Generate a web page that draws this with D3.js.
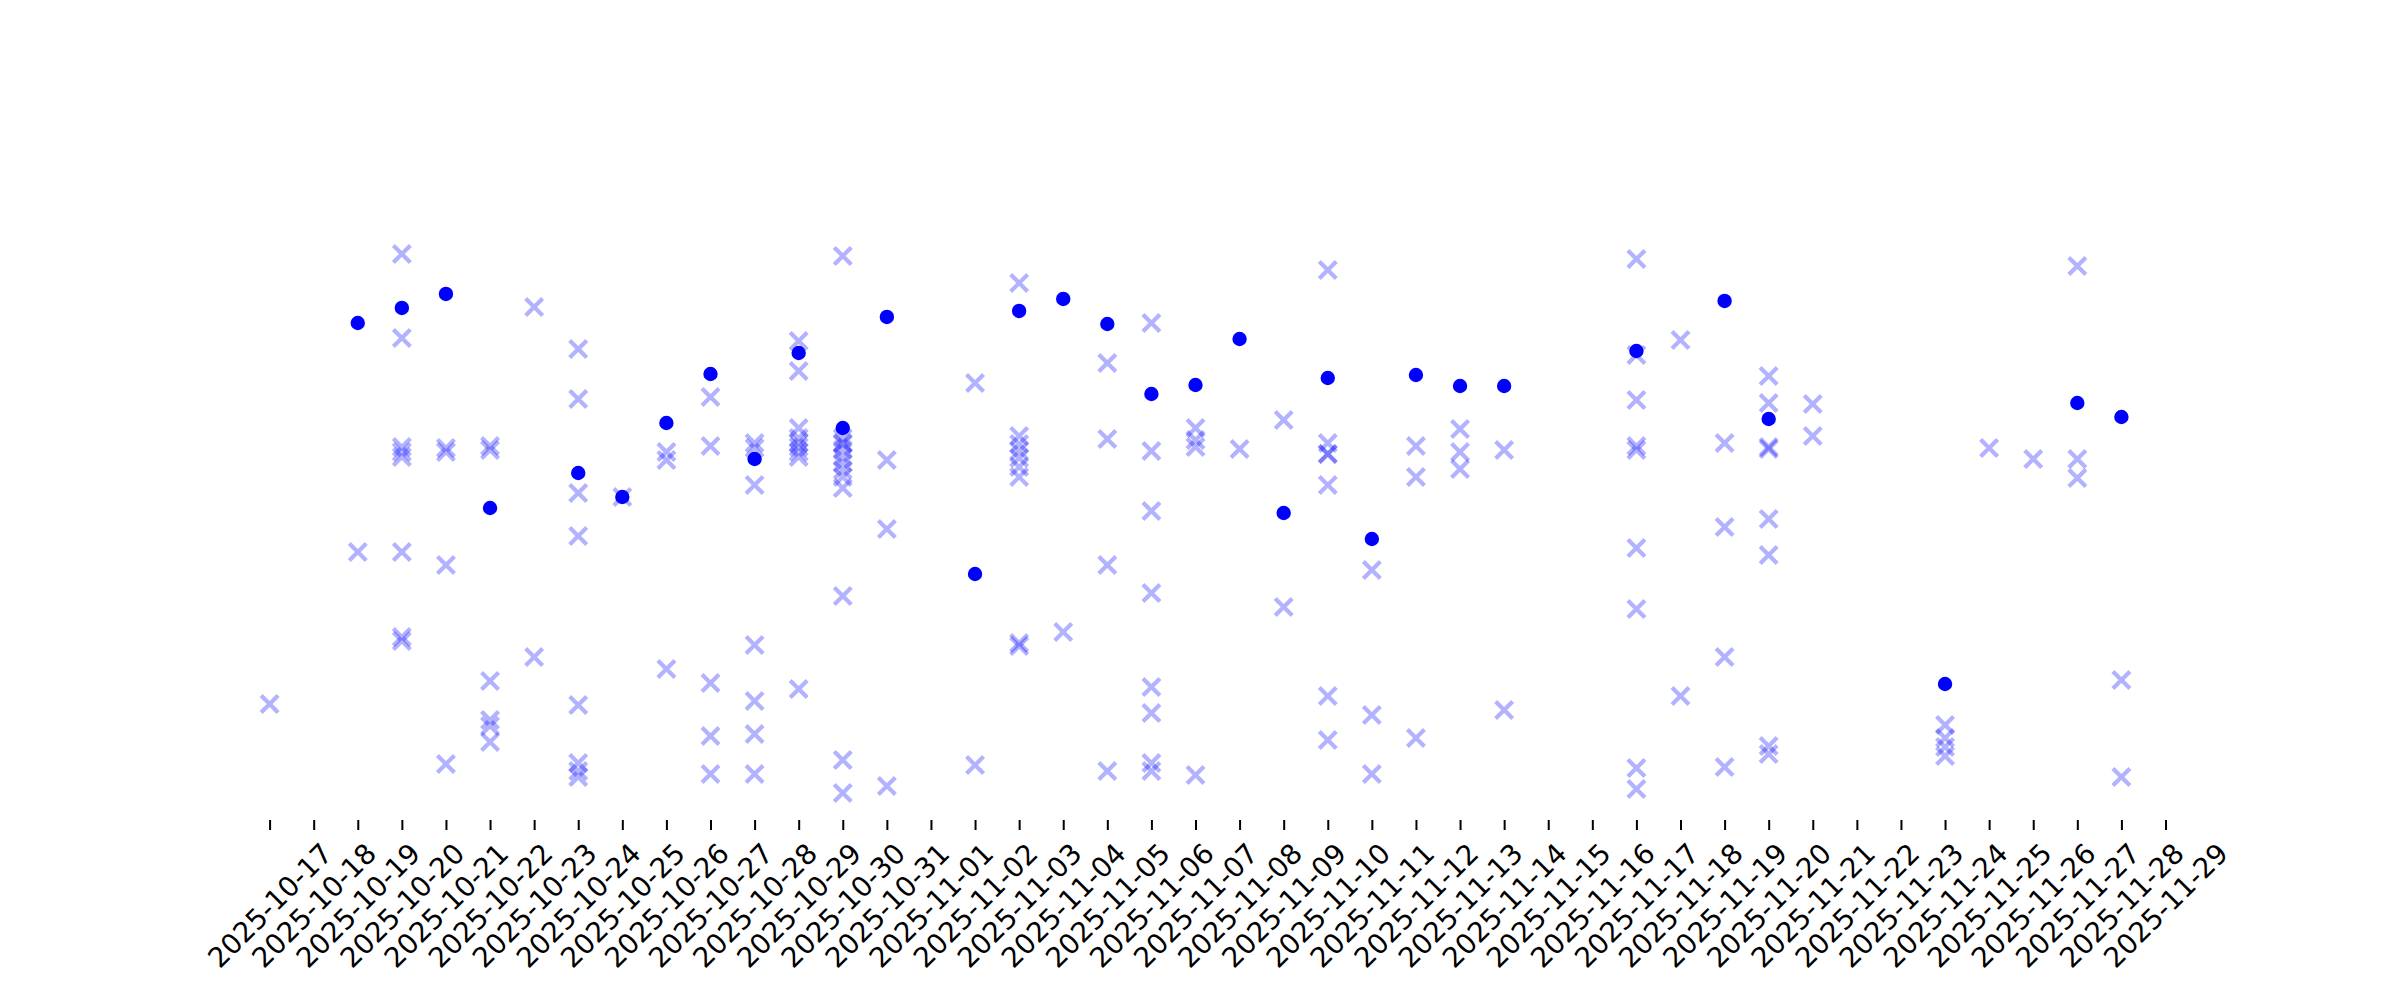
<!DOCTYPE html>
<html>
<head>
<meta charset="utf-8">
<script src="https://cdn.jsdelivr.net/npm/d3@7"></script>
<style>
  body { margin: 0; background: #fff; }
  svg { display: block; }
  .tick text { font-family: "DejaVu Sans", sans-serif; font-size: 27.8px; fill: #000; }
</style>
</head>
<body>
<svg width="2400" height="1000"></svg>
<script>
// tick labels on the date axis
const tickDates = [
  "2025-10-17", "2025-10-18", "2025-10-19", "2025-10-20", "2025-10-21", "2025-10-22",
  "2025-10-23", "2025-10-24", "2025-10-25", "2025-10-26", "2025-10-27", "2025-10-28",
  "2025-10-29", "2025-10-30", "2025-10-31", "2025-11-01", "2025-11-02", "2025-11-03",
  "2025-11-04", "2025-11-05", "2025-11-06", "2025-11-07", "2025-11-08", "2025-11-09",
  "2025-11-10", "2025-11-11", "2025-11-12", "2025-11-13", "2025-11-14", "2025-11-15",
  "2025-11-16", "2025-11-17", "2025-11-18", "2025-11-19", "2025-11-20", "2025-11-21",
  "2025-11-22", "2025-11-23", "2025-11-24", "2025-11-25", "2025-11-26", "2025-11-27",
  "2025-11-28", "2025-11-29"
];

// solid dots, one per day
const dotDates = [
  "2025-10-19", "2025-10-20", "2025-10-21", "2025-10-22", "2025-10-24", "2025-10-25",
  "2025-10-26", "2025-10-27", "2025-10-28", "2025-10-29", "2025-10-30", "2025-10-31",
  "2025-11-02", "2025-11-03", "2025-11-04", "2025-11-05", "2025-11-06", "2025-11-07",
  "2025-11-08", "2025-11-09", "2025-11-10", "2025-11-11", "2025-11-12", "2025-11-13",
  "2025-11-14", "2025-11-17", "2025-11-19", "2025-11-20", "2025-11-24", "2025-11-27",
  "2025-11-28"
];
const dotValues = [
  497, 512, 526, 312, 347, 323,
  397, 446, 361, 467, 392, 503,
  246, 509, 521, 496, 426, 435,
  481, 307, 442, 281, 445, 434,
  434, 469, 519, 401, 136, 417,
  403
];

// faint crosses, several per day
const crossDates = [
  "2025-10-17", "2025-10-19", "2025-10-20", "2025-10-21", "2025-10-22", "2025-10-23",
  "2025-10-24", "2025-10-25", "2025-10-26", "2025-10-27", "2025-10-28", "2025-10-29",
  "2025-10-30", "2025-10-31", "2025-11-02", "2025-11-03", "2025-11-04", "2025-11-05",
  "2025-11-06", "2025-11-07", "2025-11-08", "2025-11-09", "2025-11-10", "2025-11-11",
  "2025-11-12", "2025-11-13", "2025-11-14", "2025-11-17", "2025-11-18", "2025-11-19",
  "2025-11-20", "2025-11-21", "2025-11-24", "2025-11-25", "2025-11-26", "2025-11-27",
  "2025-11-28"
];
const crossValues = [
  [116],
  [268],
  [566, 482, 373, 368, 363, 268, 183, 179],
  [372, 368, 255, 56],
  [374, 370, 139, 100, 94, 78],
  [513, 163],
  [471, 421, 327, 284, 115, 57, 49, 43],
  [323],
  [368, 360, 151],
  [423, 374, 137, 84, 46],
  [377, 372, 335, 175, 119, 86, 46],
  [479, 449, 392, 382, 377, 373, 368, 363, 131],
  [564, 382, 377, 376, 370, 363, 357, 350, 343, 332, 224, 60, 27],
  [360, 291, 34],
  [437, 55],
  [537, 384, 376, 369, 362, 353, 343, 177, 174],
  [188],
  [457, 381, 255, 49],
  [497, 369, 309, 227, 133, 107, 57, 49],
  [392, 380, 373, 45],
  [371],
  [400, 213],
  [550, 377, 366, 366, 335, 124, 80],
  [250, 105, 46],
  [374, 343, 82],
  [391, 368, 351],
  [370, 110],
  [561, 465, 420, 374, 370, 272, 211, 52, 31],
  [480, 124],
  [377, 293, 163, 53],
  [444, 417, 373, 371, 301, 265, 74, 66],
  [416, 384],
  [95, 82, 73, 64],
  [372],
  [361],
  [554, 361, 342],
  [140, 43]
];

let parse = d3.utcParse("%Y-%m-%d");
let svg = d3.select("svg");
let plot = {left: 177, right: 2214, top: 227, bottom: 820};
let fontSize = 27.8;

let dots = dotDates.map((d, i) => ({date: parse(d), value: dotValues[i]}));
let crosses = crossDates.flatMap((d, i) => crossValues[i].map(v => ({date: parse(d), value: v})));
let everything = dots.concat(crosses);

// 5% margins on both axes, like the usual autoscale
let [x0, x1] = d3.extent(everything, p => p.date);
let xPad = (x1 - x0) * 0.05;
let x = d3.scaleUtc()
    .domain([new Date(+x0 - xPad), new Date(+x1 + xPad)])
    .range([plot.left, plot.right]);

let [y0, y1] = d3.extent(everything, p => p.value);
let yPad = (y1 - y0) * 0.05;
let y = d3.scaleLinear()
    .domain([y0 - yPad, y1 + yPad])
    .range([plot.bottom, plot.top]);

let xAxis = d3.axisBottom(x)
    .tickValues(tickDates.map(parse))
    .tickFormat(d3.utcFormat("%Y-%m-%d"))
    .tickSize(10);

let gx = svg.append("g")
    .attr("transform", `translate(0,${plot.bottom})`)
    .attr("font-family", "DejaVu Sans")
    .attr("font-size", fontSize)
    .call(xAxis);
gx.select(".domain").remove();
gx.selectAll(".tick line").attr("stroke", "#000").attr("stroke-width", 2);
gx.selectAll(".tick text")
    .attr("y", 0)
    .attr("dy", null)
    .attr("text-anchor", "middle")
    .attr("dominant-baseline", "central")
    .attr("transform", function() {
        // rotated box sits centred under the tick, its top just below the tick
        let w = this.getComputedTextLength();
        let h = fontSize * 1.17;
        let half = (w + h) / (2 * Math.SQRT2);
        return `translate(0,${10 + 7 + half}) rotate(-45)`;
    });

let marks = svg.append("g");

marks.selectAll(".cross")
    .data(crosses)
    .enter().append("path")
    .attr("class", "cross")
    .attr("transform", d => `translate(${x(d.date)},${y(d.value)})`)
    .attr("d", "M-8.5,-8.5L8.5,8.5M-8.5,8.5L8.5,-8.5")
    .attr("fill", "none")
    .attr("stroke", "#0000ff")
    .attr("stroke-width", 4.2)
    .attr("stroke-opacity", 0.3);

marks.selectAll(".dot")
    .data(dots)
    .enter().append("circle")
    .attr("class", "dot")
    .attr("cx", d => x(d.date))
    .attr("cy", d => y(d.value))
    .attr("r", 7.2)
    .attr("fill", "#0000ff");
</script>
</body>
</html>
